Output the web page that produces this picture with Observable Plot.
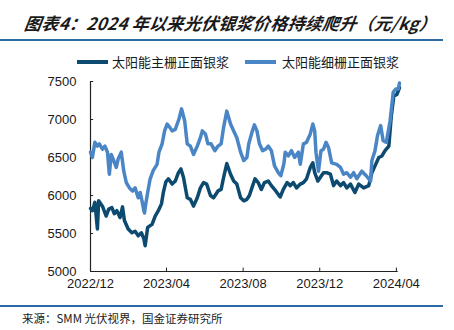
<!DOCTYPE html>
<html>
<head>
<meta charset="utf-8">
<script src="https://cdn.jsdelivr.net/npm/d3@7"></script>
<script src="https://cdn.jsdelivr.net/npm/@observablehq/plot@0.6"></script>
<style>
  html, body { margin: 0; padding: 0; background: #fff; }
  #page { position: relative; width: 454px; height: 330px; overflow: hidden; background: #fff; }
  #title { position: absolute; left: 23px; top: 12px; font-family: "Noto Sans CJK SC", sans-serif; font-size: 17px; font-weight: bold; font-style: italic; color: #1a1a1a; line-height: 22px; white-space: nowrap; transform: skewX(-8deg); transform-origin: left bottom; letter-spacing: 0.3px; }
  .rule { position: absolute; left: 0; width: 443px; height: 1.5px; background: #2b6aa2; }
  .sw { position: absolute; height: 4px; width: 31px; }
  .lt { position: absolute; font-family: "Noto Sans CJK SC", sans-serif; font-size: 13px; color: #1a1a1a; line-height: 16px; white-space: nowrap; }
  #chart { position: absolute; left: 0; top: 70px; }
  #source { position: absolute; left: 22px; top: 310px; font-family: "Noto Sans CJK SC", sans-serif; font-size: 11.5px; color: #222; line-height: 16px; white-space: nowrap; }
</style>
</head>
<body>
<div id="page">
  <div id="title">图表4：2024 年以来光伏银浆价格持续爬升（元/kg）</div>
  <div class="rule" style="top:39px"></div>
  <div id="legend"></div>
  <div id="chart"></div>
  <div class="rule" style="top:305px"></div>
  <div id="source">来源：SMM 光伏视界，国金证券研究所</div>
</div>
<script>
// ---- data ----
const seriesNames = ["太阳能主栅正面银浆", "太阳能细栅正面银浆"];
const seriesColors = ["#0d4a70", "#4a86c6"];

const darkDates = ["2022-12-01","2022-12-04","2022-12-08","2022-12-12","2022-12-14","2022-12-20","2022-12-26","2022-12-30","2023-01-04","2023-01-08","2023-01-12","2023-01-17","2023-01-21","2023-01-24","2023-01-30","2023-02-05","2023-02-10","2023-02-15","2023-02-20","2023-02-24","2023-02-26","2023-03-02","2023-03-09","2023-03-14","2023-03-19","2023-03-24","2023-03-27","2023-03-31","2023-04-04","2023-04-10","2023-04-15","2023-04-20","2023-04-24","2023-04-28","2023-05-04","2023-05-09","2023-05-14","2023-05-20","2023-05-25","2023-05-30","2023-06-04","2023-06-10","2023-06-15","2023-06-22","2023-06-27","2023-07-01","2023-07-06","2023-07-12","2023-07-17","2023-07-22","2023-07-28","2023-08-02","2023-08-07","2023-08-11","2023-08-15","2023-08-20","2023-08-25","2023-08-30","2023-09-04","2023-09-10","2023-09-15","2023-09-22","2023-09-29","2023-10-04","2023-10-10","2023-10-15","2023-10-20","2023-10-25","2023-10-31","2023-11-05","2023-11-10","2023-11-16","2023-11-20","2023-11-23","2023-11-28","2023-12-02","2023-12-07","2023-12-12","2023-12-18","2023-12-23","2023-12-28","2024-01-03","2024-01-08","2024-01-13","2024-01-19","2024-01-26","2024-02-01","2024-02-09","2024-02-17","2024-02-22","2024-02-27","2024-03-04","2024-03-09","2024-03-14","2024-03-20","2024-03-24","2024-03-28","2024-04-02","2024-04-06"];
const darkValues = [5830,5800,5910,5560,5930,5860,5730,5820,5840,5760,5800,5710,5850,5670,5560,5510,5530,5470,5510,5430,5340,5580,5620,5730,5800,5890,6040,6180,6220,6150,6190,6300,6350,6240,5970,5950,5860,5970,6100,6170,6150,6000,5970,6060,6080,6240,6420,6280,6190,6150,5970,5930,5950,6000,6100,6220,6170,6080,6170,6190,6130,6060,5980,6080,6170,6130,6170,6100,6150,6170,6220,6370,6430,6300,6190,6240,6300,6300,6280,6130,6190,6130,6170,6100,6150,6040,6150,6100,6130,6300,6390,6500,6520,6590,6650,7050,7310,7330,7420];

const lightDates = ["2022-12-01","2022-12-04","2022-12-08","2022-12-12","2022-12-15","2022-12-20","2022-12-24","2022-12-28","2022-12-31","2023-01-03","2023-01-07","2023-01-11","2023-01-14","2023-01-19","2023-01-23","2023-01-27","2023-02-01","2023-02-06","2023-02-10","2023-02-15","2023-02-18","2023-02-21","2023-02-24","2023-02-25","2023-02-27","2023-03-02","2023-03-06","2023-03-11","2023-03-17","2023-03-20","2023-03-25","2023-03-29","2023-04-02","2023-04-06","2023-04-10","2023-04-15","2023-04-21","2023-04-25","2023-04-30","2023-05-04","2023-05-09","2023-05-14","2023-05-20","2023-05-25","2023-05-28","2023-06-02","2023-06-06","2023-06-11","2023-06-17","2023-06-22","2023-06-27","2023-07-01","2023-07-06","2023-07-12","2023-07-17","2023-07-22","2023-07-28","2023-08-02","2023-08-07","2023-08-10","2023-08-15","2023-08-19","2023-08-23","2023-08-27","2023-09-01","2023-09-06","2023-09-10","2023-09-15","2023-09-20","2023-09-26","2023-09-30","2023-10-05","2023-10-07","2023-10-12","2023-10-17","2023-10-22","2023-10-28","2023-10-31","2023-11-05","2023-11-10","2023-11-16","2023-11-20","2023-11-23","2023-11-25","2023-11-29","2023-12-03","2023-12-07","2023-12-11","2023-12-15","2023-12-20","2023-12-28","2024-01-03","2024-01-08","2024-01-13","2024-01-19","2024-01-24","2024-01-29","2024-02-06","2024-02-13","2024-02-20","2024-02-22","2024-02-27","2024-03-02","2024-03-07","2024-03-11","2024-03-16","2024-03-22","2024-03-27","2024-03-31","2024-04-04","2024-04-06"];
const lightValues = [6570,6500,6700,6650,6680,6610,6650,6570,6280,6540,6460,6370,6480,6570,6320,6170,6100,6060,6100,5970,6040,5930,5800,5770,5890,6040,6220,6330,6410,6570,6680,6850,6940,6900,6850,6870,7010,7140,6980,6680,6650,6540,6650,6760,6850,6810,6680,6680,6590,6650,6680,6900,7110,6940,6850,6760,6570,6460,6500,6680,6830,6930,6850,6680,6590,6610,6650,6590,6390,6300,6260,6420,6570,6520,6590,6500,6570,6410,6680,6700,6810,6940,6850,6570,6320,6590,6610,6700,6630,6430,6410,6370,6280,6300,6240,6300,6220,6320,6260,6190,6460,6590,6790,6920,6720,6700,6980,7360,7400,7400,7480];

const yTicks = [5000, 5500, 6000, 6500, 7000, 7500];
const xTickLabels = ["2022/12", "2023/04", "2023/08", "2023/12", "2024/04"];
const xDomain = ["2022-12-01", "2024-04-06"];

// ---- build ----
const parse = d3.utcParse("%Y-%m-%d");
const parseTick = d3.utcParse("%Y/%m");
const xTicks = xTickLabels.map(parseTick);
const start = parse(xDomain[0]);
const end = parse(xDomain[1]);
const dark = darkDates.map((d, i) => ({date: parse(d), value: darkValues[i]}));
const light = lightDates.map((d, i) => ({date: parse(d), value: lightValues[i]}));

const legend = document.getElementById("legend");
const legendPos = [[77, 112], [245, 282]];
seriesNames.forEach((name, i) => {
  const sw = document.createElement("div");
  sw.className = "sw";
  sw.style.left = legendPos[i][0] + "px";
  sw.style.top = "60px";
  sw.style.background = seriesColors[i];
  legend.appendChild(sw);
  const t = document.createElement("div");
  t.className = "lt";
  t.style.left = legendPos[i][1] + "px";
  t.style.top = "54px";
  t.textContent = name;
  legend.appendChild(t);
});

const chart = Plot.plot({
  width: 454,
  height: 230,
  marginLeft: 90,
  marginRight: 55,
  marginTop: 11,
  marginBottom: 29,
  style: {fontFamily: "'Liberation Sans', Arial, sans-serif", fontSize: "13px", color: "#1a1a1a", background: "transparent"},
  x: {type: "utc", domain: [start, end]},
  y: {domain: [5000, 7500]},
  marks: [
    Plot.axisY({ticks: yTicks, tickSize: 0, tickPadding: 14, tickFormat: d => String(d), label: null}),
    Plot.axisX({ticks: xTicks, tickSize: 0, tickPadding: 7, tickFormat: (d, i) => xTickLabels[i], label: null}),
    Plot.ruleY(yTicks, {y: d => d, x1: start, x2: d3.utcDay.offset(start, 5), stroke: "#222", strokeWidth: 1}),
    Plot.ruleX(xTicks, {x: d => d, y1: 5000, y2: 5045, stroke: "#222", strokeWidth: 1}),
    Plot.ruleX([start], {y1: 5000, y2: 7500, stroke: "#222", strokeWidth: 1.2}),
    Plot.ruleY([5000], {x1: start, x2: parse("2024-04-04"), stroke: "#222", strokeWidth: 1.2}),
    Plot.line(dark, {x: "date", y: "value", stroke: seriesColors[0], strokeWidth: 3.5, strokeLinejoin: "round"}),
    Plot.line(light, {x: "date", y: "value", stroke: seriesColors[1], strokeWidth: 3.5, strokeLinejoin: "round"})
  ]
});
document.getElementById("chart").appendChild(chart);
</script>
</body>
</html>
